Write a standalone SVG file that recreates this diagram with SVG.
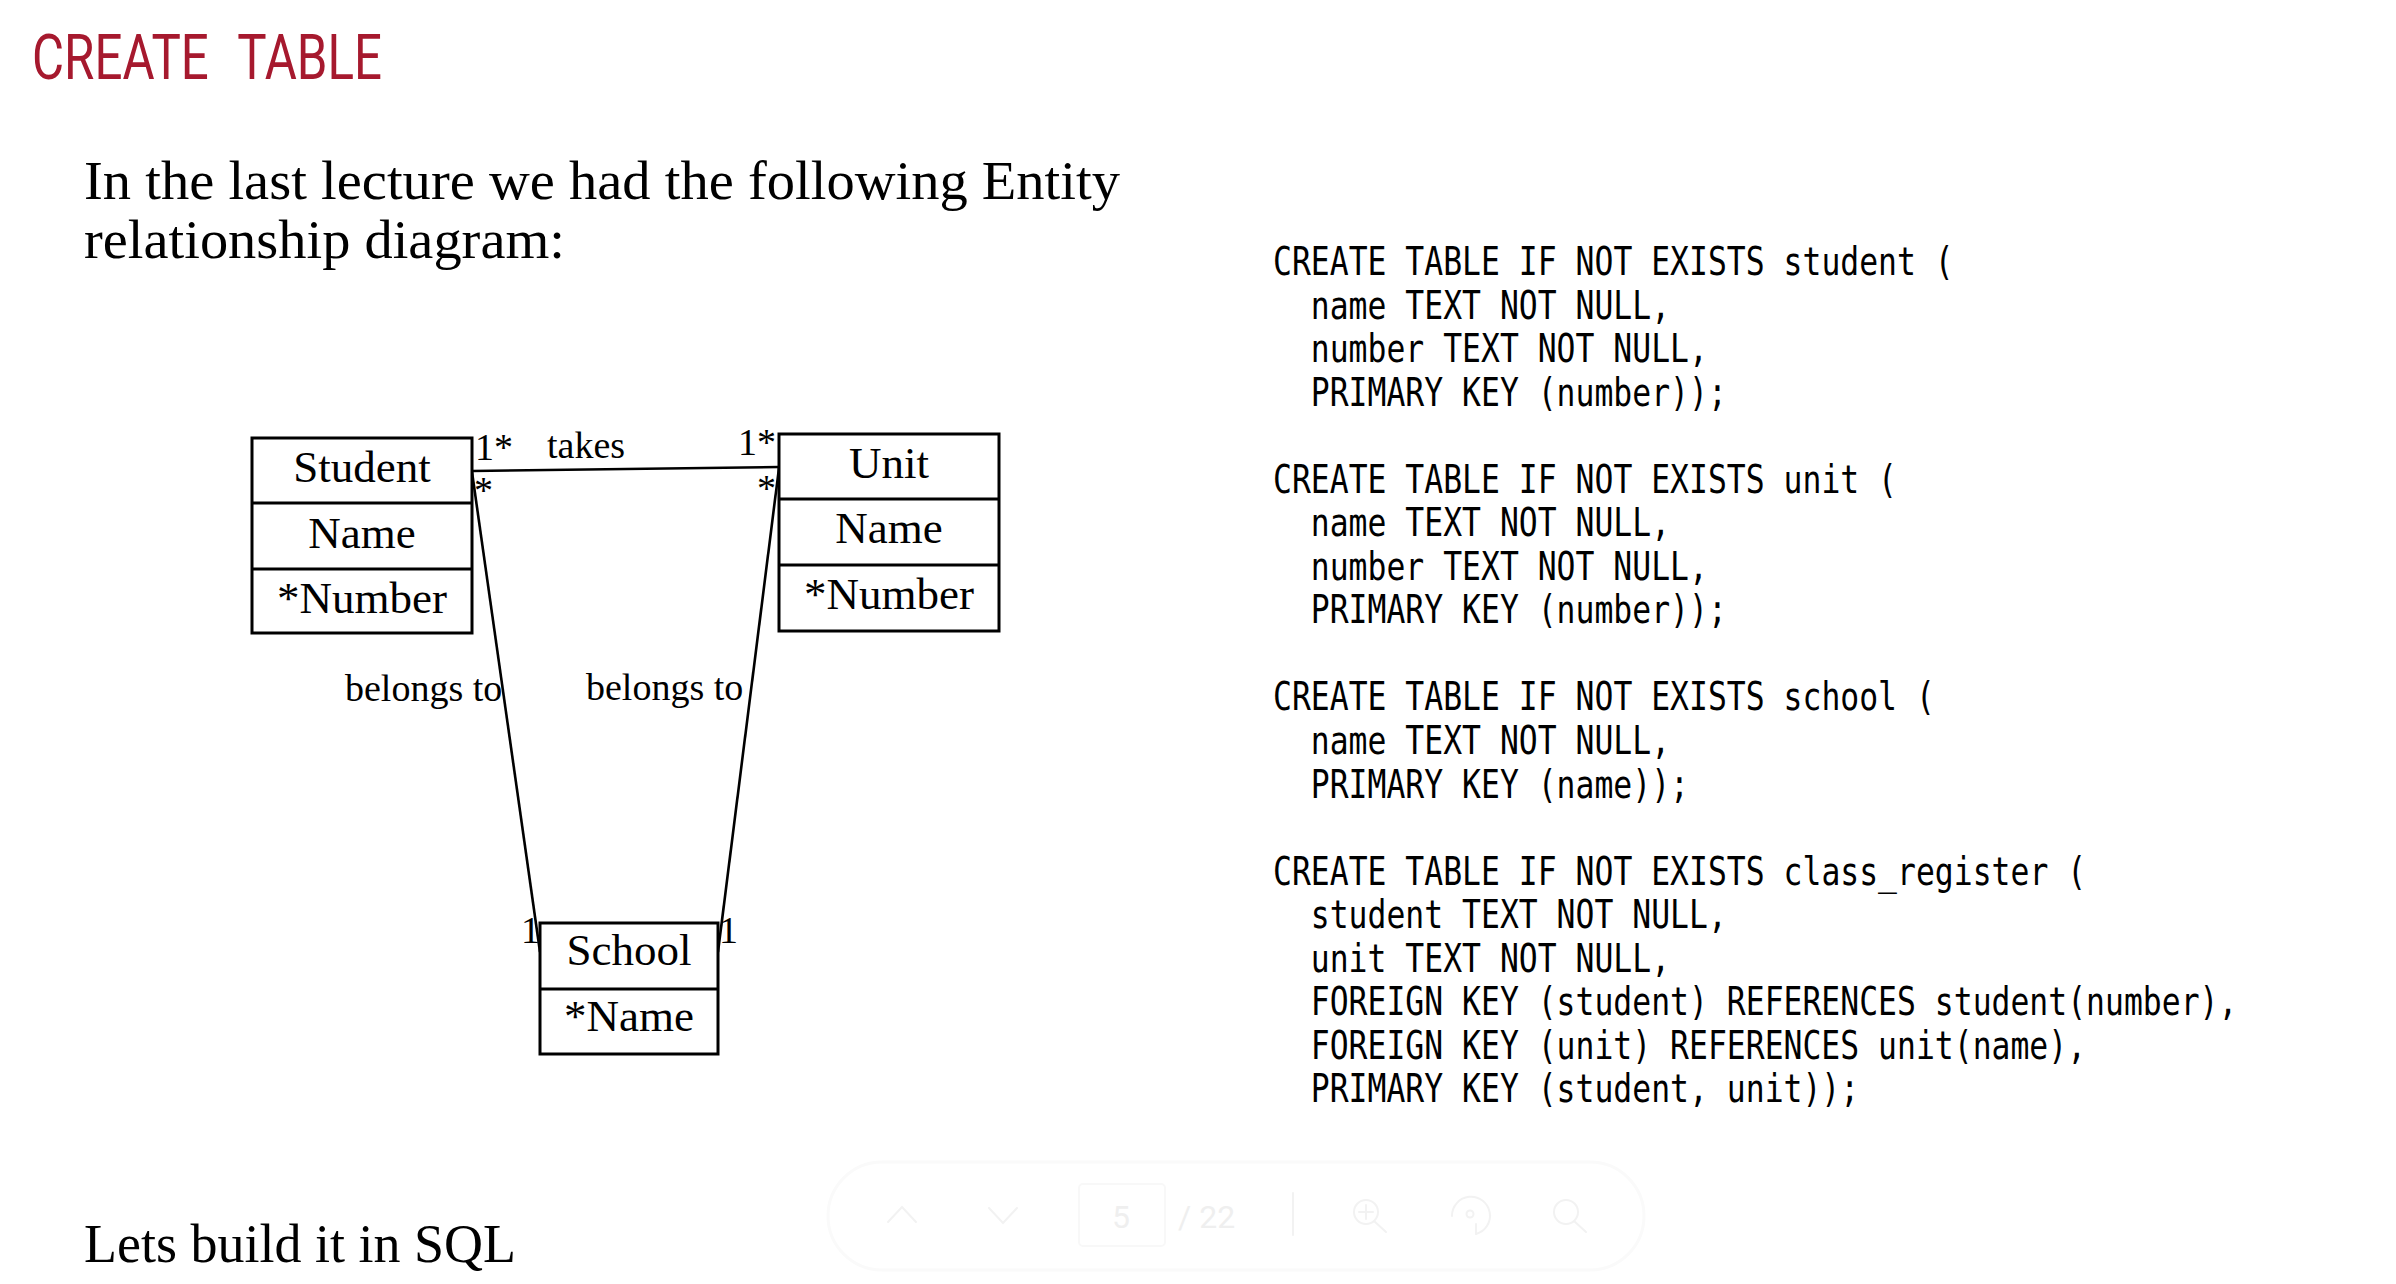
<svg xmlns="http://www.w3.org/2000/svg" width="2396" height="1284" viewBox="0 0 2396 1284">
<style>
.title{font-family:Roboto,"Liberation Sans",sans-serif;font-size:63px;fill:#a6192e}
.body{font-family:"Liberation Serif","DejaVu Serif",serif;font-size:55px;fill:#000}
.box{fill:#fff;stroke:#000;stroke-width:3}
.div{stroke:#000;stroke-width:3}
.lbl{font-family:"Liberation Serif",serif;font-size:45px;fill:#000;text-anchor:middle}
.rl{font-family:"Liberation Serif",serif;font-size:38px;fill:#000}
.con{stroke:#000;stroke-width:2.6;fill:none}
.code{font-family:"DejaVu Sans Mono","Liberation Mono",monospace;font-size:38.4px;fill:#000}
.tb{fill:none;stroke:#f2f2f2;stroke-width:2;stroke-linecap:round}
.tbt{font-family:Roboto,"Liberation Sans",sans-serif;font-size:32px;fill:#efefef}
</style>
<rect width="2396" height="1284" fill="#fff"/>
<text class="title" x="32" y="79" textLength="350" lengthAdjust="spacingAndGlyphs" word-spacing="22">CREATE TABLE</text>
<text class="body" x="84" y="199" textLength="1036" lengthAdjust="spacingAndGlyphs">In the last lecture we had the following Entity</text>
<text class="body" x="84" y="258" textLength="481" lengthAdjust="spacingAndGlyphs">relationship diagram:</text>
<text class="body" x="84" y="1262" textLength="432" lengthAdjust="spacingAndGlyphs">Lets build it in SQL</text>

<g id="connectors">
<line class="con" x1="472" y1="471" x2="779" y2="467"/>
<line class="con" x1="472" y1="472" x2="540" y2="952"/>
<line class="con" x1="779" y1="468" x2="718" y2="952"/>
<text class="rl" x="475" y="460">1*</text>
<text class="rl" x="547" y="458">takes</text>
<text class="rl" x="776" y="455" text-anchor="end">1*</text>
<text class="rl" x="474" y="503">*</text>
<text class="rl" x="776" y="501" text-anchor="end">*</text>
<text class="rl" x="345" y="701">belongs to</text>
<text class="rl" x="586" y="700">belongs to</text>
<text class="rl" x="540" y="943" text-anchor="end">1</text>
<text class="rl" x="719" y="943">1</text>
</g>

<g id="student">
<rect class="box" x="252" y="438" width="220" height="195"/>
<line class="div" x1="252" y1="503" x2="472" y2="503"/>
<line class="div" x1="252" y1="569" x2="472" y2="569"/>
<text class="lbl" x="362" y="482">Student</text>
<text class="lbl" x="362" y="548">Name</text>
<text class="lbl" x="362" y="613">*Number</text>
</g>

<g id="unit">
<rect class="box" x="779" y="434" width="220" height="197"/>
<line class="div" x1="779" y1="499" x2="999" y2="499"/>
<line class="div" x1="779" y1="565" x2="999" y2="565"/>
<text class="lbl" x="889" y="478">Unit</text>
<text class="lbl" x="889" y="543">Name</text>
<text class="lbl" x="889" y="609">*Number</text>
</g>

<g id="school">
<rect class="box" x="540" y="923" width="178" height="131"/>
<line class="div" x1="540" y1="989" x2="718" y2="989"/>
<text class="lbl" x="629" y="965">School</text>
<text class="lbl" x="629" y="1031">*Name</text>
</g>

<g id="sql" transform="translate(1273 0) scale(0.818 1)">
<text class="code" x="0" y="275">CREATE TABLE IF NOT EXISTS student (</text>
<text class="code" x="46.2" y="318.6">name TEXT NOT NULL,</text>
<text class="code" x="46.2" y="362.1">number TEXT NOT NULL,</text>
<text class="code" x="46.2" y="405.7">PRIMARY KEY (number));</text>
<text class="code" x="0" y="492.8">CREATE TABLE IF NOT EXISTS unit (</text>
<text class="code" x="46.2" y="536.3">name TEXT NOT NULL,</text>
<text class="code" x="46.2" y="579.9">number TEXT NOT NULL,</text>
<text class="code" x="46.2" y="623.4">PRIMARY KEY (number));</text>
<text class="code" x="0" y="710.5">CREATE TABLE IF NOT EXISTS school (</text>
<text class="code" x="46.2" y="754.1">name TEXT NOT NULL,</text>
<text class="code" x="46.2" y="797.6">PRIMARY KEY (name));</text>
<text class="code" x="0" y="884.7">CREATE TABLE IF NOT EXISTS class_register (</text>
<text class="code" x="46.2" y="928.3">student TEXT NOT NULL,</text>
<text class="code" x="46.2" y="971.8">unit TEXT NOT NULL,</text>
<text class="code" x="46.2" y="1015.4">FOREIGN KEY (student) REFERENCES student(number),</text>
<text class="code" x="46.2" y="1058.9">FOREIGN KEY (unit) REFERENCES unit(name),</text>
<text class="code" x="46.2" y="1102.5">PRIMARY KEY (student, unit));</text>
</g>

<g id="toolbar">
<rect x="828" y="1162" width="816" height="108" rx="54" fill="#fff" stroke="#fafafa" stroke-width="3"/>
<polyline class="tb" points="888,1222 902,1207 916,1222"/>
<polyline class="tb" points="989,1208 1003,1223 1017,1208"/>
<rect x="1079" y="1184" width="86" height="62" rx="4" fill="none" stroke="#f8f8f8" stroke-width="2"/>
<text class="tbt" x="1121" y="1228" text-anchor="middle">5</text>
<text class="tbt" x="1178" y="1228">/ 22</text>
<line class="tb" x1="1293" y1="1193" x2="1293" y2="1235"/>
<circle class="tb" cx="1366" cy="1212" r="12"/>
<line class="tb" x1="1374" y1="1221" x2="1386" y2="1232"/>
<line class="tb" x1="1366" y1="1205" x2="1366" y2="1219"/>
<line class="tb" x1="1359" y1="1212" x2="1373" y2="1212"/>
<path class="tb" d="M1452,1216 A19,19 0 1 1 1476,1234"/>
<circle class="tb" cx="1470" cy="1214" r="3.5"/>
<line class="tb" x1="1476" y1="1234" x2="1476" y2="1224"/>
<circle class="tb" cx="1566" cy="1212" r="12"/>
<line class="tb" x1="1574" y1="1221" x2="1586" y2="1232"/>
</g>
</svg>
